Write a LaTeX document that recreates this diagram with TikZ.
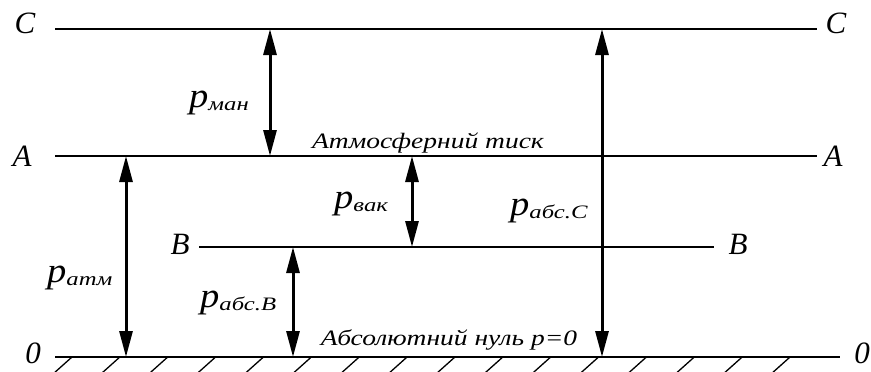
\documentclass[tikz,border=0pt]{standalone}
\usepackage{fontspec}
\setmainfont{Liberation Serif}
\usetikzlibrary{arrows.meta}
\newcommand{\plab}[1]{\scalebox{1.1}[1]{\fontsize{35}{35}\selectfont\itshape p}\raisebox{-3pt}{\scalebox{1.3}[1]{\fontsize{19}{19}\selectfont\itshape #1}}}
\newcommand{\wide}[1]{\scalebox{1.25}[1]{#1}}
\tikzset{
  level/.style={line width=2.2pt},
  dim/.style={line width=3pt,{Triangle[length=26pt,width=13pt]}-{Triangle[length=26pt,width=13pt]}},
  letter/.style={anchor=base,inner sep=0pt,font=\fontsize{31}{31}\selectfont\itshape},
  plabel/.style={anchor=base west,inner sep=0pt},
  note/.style={anchor=base,inner sep=0pt,font=\fontsize{22}{22}\selectfont\itshape},
  hatch/.style={line width=1.3pt}
}
\begin{document}
\begin{tikzpicture}[x=1pt,y=-1pt]
\useasboundingbox (0,0) rectangle (871,372);
\fill[white] (0,0) rectangle (871,372);
% level lines
\coordinate (CL) at (55,29);  \coordinate (CR) at (817,29);
\coordinate (AL) at (55,156); \coordinate (AR) at (817,156);
\coordinate (BL) at (199,247); \coordinate (BR) at (714,247);
\coordinate (OL) at (55,357); \coordinate (OR) at (840,357);
\draw[level] (CL) -- (CR);
\draw[level] (AL) -- (AR);
\draw[level] (BL) -- (BR);
\draw[level] (OL) -- (OR);
% hatching
\begin{scope}
\clip (0,357) rectangle (871,372);
\foreach \k in {0,...,15}{
  \draw[hatch] ({72+47.87*\k},357) -- ({72+47.87*\k-19},374);
}
\end{scope}
% level letters
\node[letter] (lC) at (25,33) {C};
\node[letter] (rC) at (836,33) {C};
\node[letter] (lA) at (22,166) {A};
\node[letter] (rA) at (833,166) {A};
\node[letter] (lB) at (180,254) {B};
\node[letter] (rB) at (738,254) {B};
\node[letter] (lO) at (33,363) {0};
\node[letter] (rO) at (862,363) {0};
% dimension arrows
\coordinate (man1) at (270,29);  \coordinate (man2) at (270,156);
\coordinate (atm1) at (126,156); \coordinate (atm2) at (126,357);
\coordinate (vak1) at (412,156); \coordinate (vak2) at (412,247);
\coordinate (absB1) at (293,247); \coordinate (absB2) at (293,357);
\coordinate (absC1) at (602,29); \coordinate (absC2) at (602,357);
\draw[dim] (man1) -- (man2);
\draw[dim] (atm1) -- (atm2);
\draw[dim] (vak1) -- (vak2);
\draw[dim] (absB1) -- (absB2);
\draw[dim] (absC1) -- (absC2);
% labels
\node[plabel] (pman) at (189,107) {\plab{ман}};
\node[plabel] (pvak) at (334,208) {\plab{вак}};
\node[plabel] (pabsC) at (510,215) {\plab{абс.C}};
\node[plabel] (patm) at (47,282) {\plab{атм}};
\node[plabel] (pabsB) at (200,307) {\plab{абс.B}};
\node[note] (atmtext) at (428,148) {\wide{Атмосферний тиск}};
\node[note] (zerotext) at (449,345) {\wide{Абсолютний нуль p=0}};
\end{tikzpicture}
\end{document}
